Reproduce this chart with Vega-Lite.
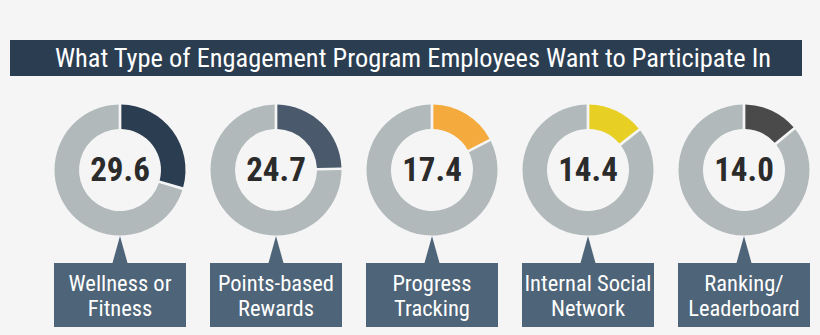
{
  "$schema": "https://vega.github.io/schema/vega-lite/v6.json",
  "background": "#f5f5f5",
  "padding": {"left": 10, "top": 40, "right": 10, "bottom": 8},
  "config": {"view": {"stroke": null}, "font": "Roboto Condensed, Liberation Sans Narrow, Roboto"},
  "datasets": {
    "segs": [
      {"name": "Wellness or Fitness", "part": "Wellness or Fitness", "value": 29.6, "order": 0},
      {"name": "Wellness or Fitness", "part": "rest", "value": 70.4, "order": 1},
      {"name": "Points-based Rewards", "part": "Points-based Rewards", "value": 24.7, "order": 0},
      {"name": "Points-based Rewards", "part": "rest", "value": 75.3, "order": 1},
      {"name": "Progress Tracking", "part": "Progress Tracking", "value": 17.4, "order": 0},
      {"name": "Progress Tracking", "part": "rest", "value": 82.6, "order": 1},
      {"name": "Internal Social Network", "part": "Internal Social Network", "value": 14.4, "order": 0},
      {"name": "Internal Social Network", "part": "rest", "value": 85.6, "order": 1},
      {"name": "Ranking/ Leaderboard", "part": "Ranking/ Leaderboard", "value": 14.0, "order": 0},
      {"name": "Ranking/ Leaderboard", "part": "rest", "value": 86.0, "order": 1}
    ],
    "progs": [
      {"name": "Wellness or Fitness", "num": "29.6", "label": "Wellness or\nFitness"},
      {"name": "Points-based Rewards", "num": "24.7", "label": "Points-based\nRewards"},
      {"name": "Progress Tracking", "num": "17.4", "label": "Progress\nTracking"},
      {"name": "Internal Social Network", "num": "14.4", "label": "Internal Social\nNetwork"},
      {"name": "Ranking/ Leaderboard", "num": "14.0", "label": "Ranking/\nLeaderboard"}
    ]
  },
  "spacing": 28,
  "vconcat": [
    {
      "width": 792,
      "height": 36,
      "view": {"fill": "#2b3d50", "stroke": null},
      "data": {"values": [{"t": "What Type of Engagement Program Employees Want to Participate In"}]},
      "mark": {"type": "text", "color": "#ffffff", "fontSize": 26.4, "baseline": "middle", "align": "center", "dx": 7, "dy": 1},
      "encoding": {"text": {"field": "t", "type": "nominal"}}
    },
    {
      "spacing": 0,
      "vconcat": [
        {
          "width": 792,
          "height": 132,
          "layer": [
            {
              "data": {"name": "segs"},
              "transform": [
                {"stack": "value", "groupby": ["name"], "sort": [{"field": "order", "order": "ascending"}], "as": ["t0", "t1"]}
              ],
              "mark": {"type": "arc", "outerRadius": 65.5, "innerRadius": 41, "padAngle": 0.035},
              "encoding": {
                "x": {"field": "name", "type": "nominal", "axis": null,
                  "scale": {"domain": ["Wellness or Fitness", "Points-based Rewards", "Progress Tracking", "Internal Social Network", "Ranking/ Leaderboard"], "range": [32, 812], "paddingInner": 0.1538, "paddingOuter": 0.0769}},
                "theta": {"field": "t0", "type": "quantitative", "scale": {"domain": [0, 100]}},
                "theta2": {"field": "t1"},
                "color": {"field": "part", "type": "nominal", "legend": null,
                  "scale": {"domain": ["Wellness or Fitness", "Points-based Rewards", "Progress Tracking", "Internal Social Network", "Ranking/ Leaderboard", "rest"],
                    "range": ["#2b3d50", "#4a5a6c", "#f4aa3d", "#e8cf24", "#4a4a4a", "#b1b9bb"]}}
              }
            },
            {
              "data": {"name": "progs"},
              "mark": {"type": "text", "fontSize": 33, "fontWeight": "bold", "color": "#2b2b2b", "baseline": "middle", "align": "center", "dy": 1},
              "encoding": {
                "x": {"field": "name", "type": "nominal", "axis": null,
                  "scale": {"domain": ["Wellness or Fitness", "Points-based Rewards", "Progress Tracking", "Internal Social Network", "Ranking/ Leaderboard"], "range": [32, 812], "paddingInner": 0.1538, "paddingOuter": 0.0769}},
                "text": {"field": "num", "type": "nominal"}
              }
            }
          ]
        },
        {
          "width": 792,
          "height": 27,
          "data": {"name": "progs"},
          "mark": {"type": "point", "shape": "M-0.556,1L0,-1L0.556,1Z", "size": 729, "filled": true, "opacity": 1, "color": "#4e6478", "strokeWidth": 0},
          "encoding": {
            "x": {"field": "name", "type": "nominal", "axis": null,
              "scale": {"domain": ["Wellness or Fitness", "Points-based Rewards", "Progress Tracking", "Internal Social Network", "Ranking/ Leaderboard"], "range": [32, 812], "paddingInner": 0.1538, "paddingOuter": 0.0769}}
          }
        },
        {
          "width": 792,
          "height": 64,
          "layer": [
            {
              "data": {"name": "progs"},
              "mark": {"type": "bar", "color": "#4e6478"},
              "encoding": {
                "x": {"field": "name", "type": "nominal", "axis": null,
                  "scale": {"domain": ["Wellness or Fitness", "Points-based Rewards", "Progress Tracking", "Internal Social Network", "Ranking/ Leaderboard"], "range": [32, 812], "paddingInner": 0.1538, "paddingOuter": 0.0769}}
              }
            },
            {
              "data": {"name": "progs"},
              "mark": {"type": "text", "fontSize": 22.5, "color": "#ffffff", "lineBreak": "\n", "lineHeight": 24.5, "baseline": "middle", "align": "center", "dy": -11},
              "encoding": {
                "x": {"field": "name", "type": "nominal", "axis": null,
                  "scale": {"domain": ["Wellness or Fitness", "Points-based Rewards", "Progress Tracking", "Internal Social Network", "Ranking/ Leaderboard"], "range": [32, 812], "paddingInner": 0.1538, "paddingOuter": 0.0769}},
                "text": {"field": "label", "type": "nominal"}
              }
            }
          ]
        }
      ]
    }
  ]
}
